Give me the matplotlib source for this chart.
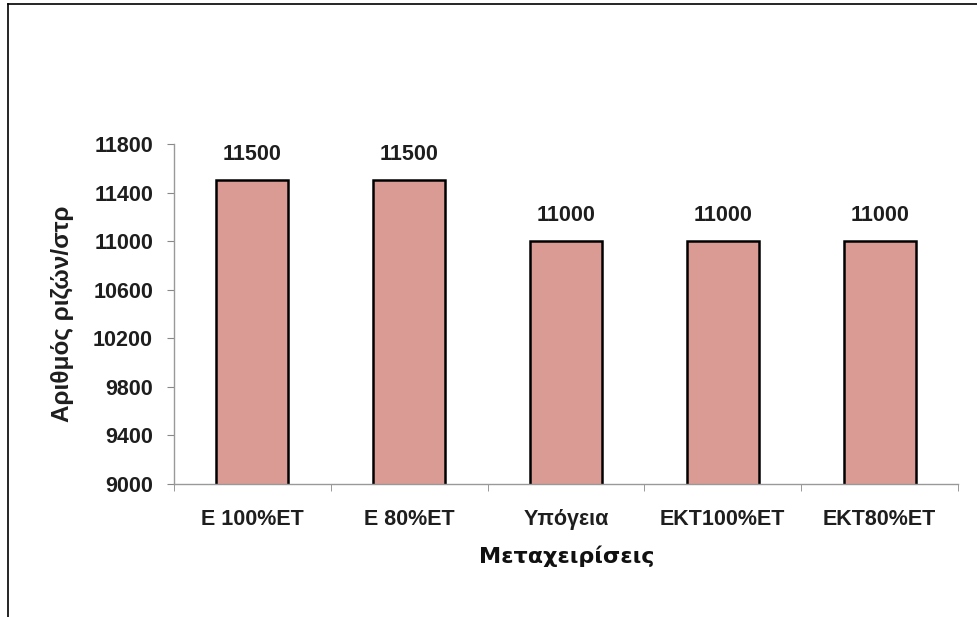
import numpy as np
import matplotlib
matplotlib.use("Agg")
import matplotlib.pyplot as plt
from matplotlib.lines import Line2D

categories = ["E 100%ET", "E 80%ET", "Υπόγεια", "EKT100%ET", "EKT80%ET"]
values = [11500, 11500, 11000, 11000, 11000]
yticks = [9000, 9400, 9800, 10200, 10600, 11000, 11400, 11800]

plt.rcParams["font.family"] = ["Liberation Sans", "DejaVu Sans"]
txt = "#1e1e1e"

fig = plt.figure(figsize=(9.77, 6.17), dpi=100)
ax = fig.add_axes([0.178, 0.2156, 0.8026, 0.551])

x = np.arange(len(categories))
ax.bar(x, values, width=0.46, color="#db9b95", edgecolor="black", linewidth=1.8)

ax.set_ylim(9000, 11800)
ax.set_xlim(-0.5, len(categories) - 0.5)
ax.set_yticks(yticks)
ax.set_yticklabels([str(t) for t in yticks], fontsize=15.5, fontweight="bold", color=txt)
ax.set_xticks(x)
ax.set_xticklabels(categories, fontsize=15.5, fontweight="bold", color=txt)
ax.tick_params(axis="x", length=0, pad=18)
ax.set_xticks(np.arange(len(categories) + 1) - 0.5, minor=True)
ax.tick_params(axis="x", which="minor", length=5, color="#888888")
ax.tick_params(axis="y", length=5, color="#888888", pad=10)

for s in ["top", "right"]:
    ax.spines[s].set_visible(False)
for s in ["left", "bottom"]:
    ax.spines[s].set_color("#999999")
    ax.spines[s].set_linewidth(1.0)

for xi, v in zip(x, values):
    ax.annotate(str(v), (xi, v), xytext=(0, 11), textcoords="offset points",
                ha="center", va="bottom", fontsize=15.5, fontweight="bold", color=txt)

ax.set_ylabel("Αριθμός ριζών/στρ", fontsize=17.5, fontweight="bold", labelpad=14, color=txt)
fig.text(0.58, 0.098, "Μεταχειρίσεις", ha="center", va="center",
         fontsize=16, fontweight="bold", family=["DejaVu Sans"], color="#111111")

# frame lines (left and top) as in the scanned original
fig.lines.append(Line2D([0.008, 0.008], [0.0, 0.994], transform=fig.transFigure,
                        color="black", linewidth=1.2))
fig.lines.append(Line2D([0.008, 1.0], [0.994, 0.994], transform=fig.transFigure,
                        color="black", linewidth=1.2))

fig.savefig("out.png", dpi=100)
